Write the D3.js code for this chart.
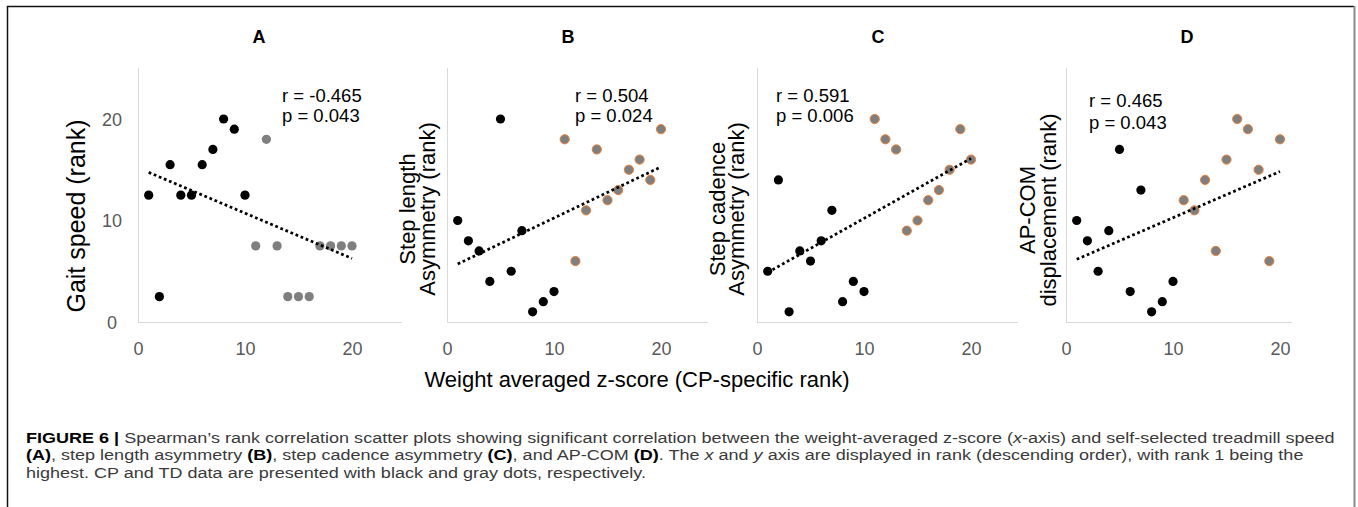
<!DOCTYPE html>
<html>
<head>
<meta charset="utf-8">
<script src="https://cdn.jsdelivr.net/npm/d3@7"></script>
<style>
  body { margin: 0; background: #fff; }
  svg { display: block; font-family: "Liberation Sans", Arial, sans-serif; }
</style>
</head>
<body>
<div id="container"></div>
<script>
const width = 1358;
const height = 507;

// weight averaged z-score rank (x of every panel)
const zRank = [1, 2, 3, 4, 5, 6, 7, 8, 9, 10, 11, 12, 13, 14, 15, 16, 17, 18, 19, 20];
const group = ['CP', 'CP', 'CP', 'CP', 'CP', 'CP', 'CP', 'CP', 'CP', 'CP',
  'TD', 'TD', 'TD', 'TD', 'TD', 'TD', 'TD', 'TD', 'TD', 'TD'];

// y ranks
const gaitSpeedRank = [12.5, 2.5, 15.5, 12.5, 12.5, 15.5, 17, 20, 19, 12.5, 7.5, 18, 7.5, 2.5, 2.5, 2.5, 7.5, 7.5, 7.5, 7.5];
const stepLengthRank = [10, 8, 7, 4, 20, 5, 9, 1, 2, 3, 18, 6, 11, 17, 12, 13, 15, 16, 14, 19];
const stepCadenceRank = [5, 14, 1, 7, 6, 8, 11, 2, 4, 3, 20, 18, 17, 9, 10, 12, 13, 15, 19, 16];
const apComRank = [10, 8, 5, 9, 17, 3, 13, 1, 2, 4, 12, 11, 14, 7, 16, 20, 19, 15, 6, 18];

const panelLetters = ['A', 'B', 'C', 'D'];
const yTitles = [
  ['Gait speed (rank)'],
  ['Step length', 'Asymmetry (rank)'],
  ['Step cadence', 'Asymmetry (rank)'],
  ['AP-COM', 'displacement (rank)']
];
const rValues = ['-0.465', '0.504', '0.591', '0.465'];
const pValues = ['0.043', '0.024', '0.006', '0.043'];
const xTicks = [0, 10, 20];
const yTicks = [0, 10, 20];
const xTitle = 'Weight averaged z-score (CP-specific rank)';

const series = [gaitSpeedRank, stepLengthRank, stepCadenceRank, apComRank];

// layout of each small chart
const layout = [
  { left: 138, axisLen: 264, titleFont: 25, titleX: [85], titleY: 216, statX: 144, statY: [102, 122], tdStroke: null, yLabels: true },
  { left: 447, axisLen: 261, titleFont: 22, titleX: [-32, -12], titleY: 209, statX: 128, statY: [102, 122], tdStroke: '#ed7d31', yLabels: false },
  { left: 757, axisLen: 261, titleFont: 22, titleX: [-32, -13], titleY: 209, statX: 19, statY: [102, 122], tdStroke: '#ed7d31', yLabels: false },
  { left: 1066, axisLen: 226, titleFont: 22, titleX: [-31, -10], titleY: 210, statX: 23, statY: [107, 129], tdStroke: '#ed7d31', yLabels: false }
];

const plotTop = 68;
const plotBottom = 322;
const pxPerRank = 10.7;

const svg = d3.select('#container')
  .append('svg')
  .attr('width', width)
  .attr('height', height);

svg.append('rect').attr('width', width).attr('height', height).attr('fill', '#fff');

// frame
svg.append('path')
  .attr('d', `M7.5,${height} V6.5 H1354`)
  .attr('fill', 'none')
  .attr('stroke', '#111')
  .attr('stroke-width', 1.5);
svg.append('line')
  .attr('x1', 1354.5).attr('x2', 1354.5)
  .attr('y1', 6).attr('y2', height)
  .attr('stroke', '#8a8a8a')
  .attr('stroke-width', 2);

const y = d3.scaleLinear().domain([0, 25]).range([plotBottom, plotBottom - 25 * 10.15]);

function fit(xs, ys) {
  const mx = d3.mean(xs), my = d3.mean(ys);
  let sxy = 0, sxx = 0;
  xs.forEach((v, i) => { sxy += (v - mx) * (ys[i] - my); sxx += (v - mx) ** 2; });
  const slope = sxy / sxx;
  return { slope, intercept: my - slope * mx };
}

series.forEach((ys, k) => {
  const L = layout[k];
  const x = d3.scaleLinear().domain([0, 20]).range([L.left, L.left + 20 * pxPerRank]);
  const g = svg.append('g');

  // axis lines
  g.append('line')
    .attr('x1', L.left + 0.5).attr('x2', L.left + 0.5)
    .attr('y1', plotTop).attr('y2', plotBottom)
    .attr('stroke', '#d9d9d9');
  g.append('line')
    .attr('x1', L.left).attr('x2', L.left + L.axisLen)
    .attr('y1', plotBottom + 0.5).attr('y2', plotBottom + 0.5)
    .attr('stroke', '#d9d9d9');

  g.append('g')
    .attr('transform', `translate(0,${plotBottom})`)
    .call(d3.axisBottom(x).tickValues(xTicks).tickSize(0).tickPadding(20))
    .call(el => el.select('.domain').remove())
    .call(el => el.selectAll('.tick text')
      .attr('fill', '#595959')
      .attr('font-size', 18)
      .attr('font-family', '"Liberation Sans", Arial, sans-serif'));

  if (L.yLabels) {
    g.append('g')
      .selectAll('text')
      .data(yTicks)
      .join('text')
      .attr('x', L.left - 26)
      .attr('y', d => y(d) + 6.5)
      .attr('text-anchor', 'middle')
      .attr('fill', '#595959')
      .attr('font-size', 18)
      .text(d => d);
  }

  // panel letter
  g.append('text')
    .attr('x', L.left + 121)
    .attr('y', 43)
    .attr('text-anchor', 'middle')
    .attr('font-weight', 'bold')
    .attr('font-size', 18)
    .text(panelLetters[k]);

  // y title
  const lines = yTitles[k];
  lines.forEach((t, i) => {
    const tx = k === 0 ? L.titleX[i] : L.left + L.titleX[i];
    g.append('text')
      .attr('transform', `translate(${tx},${L.titleY}) rotate(-90)`)
      .attr('text-anchor', 'middle')
      .attr('font-size', L.titleFont)
      .attr('fill', '#000')
      .text(t);
  });

  // points
  const pts = zRank.map((xv, i) => ({ x: xv, y: ys[i], grp: group[i] }));
  g.append('g')
    .selectAll('circle')
    .data(pts)
    .join('circle')
    .attr('cx', d => x(d.x))
    .attr('cy', d => y(d.y))
    .attr('r', 4.6)
    .attr('fill', d => d.grp === 'CP' ? '#000' : '#7f7f7f')
    .attr('stroke', d => d.grp === 'TD' && L.tdStroke ? L.tdStroke : 'none')
    .attr('stroke-width', 1);

  // linear trend line
  const f = fit(zRank, ys);
  const x0 = d3.min(zRank), x1 = d3.max(zRank);
  g.append('line')
    .attr('x1', x(x0)).attr('y1', y(f.intercept + f.slope * x0))
    .attr('x2', x(x1)).attr('y2', y(f.intercept + f.slope * x1))
    .attr('stroke', '#000')
    .attr('stroke-width', 2.75)
    .attr('stroke-dasharray', '2.75 2.75');

  // stats
  g.append('text')
    .attr('x', L.left + L.statX).attr('y', L.statY[0])
    .attr('font-size', 18.5)
    .text(`r = ${rValues[k]}`);
  g.append('text')
    .attr('x', L.left + L.statX).attr('y', L.statY[1])
    .attr('font-size', 18.5)
    .text(`p = ${pValues[k]}`);
});

svg.append('text')
  .attr('x', 637)
  .attr('y', 387)
  .attr('text-anchor', 'middle')
  .attr('font-size', 22)
  .text(xTitle);

// caption
const captionLines = [
  { y: 442.5, parts: [
    ['FIGURE 6 | ', 'b'],
    ['Spearman’s rank correlation scatter plots showing significant correlation between the weight-averaged z-score (', ''],
    ['x', 'i'], ['-axis) and self-selected treadmill speed', '']] },
  { y: 460, parts: [
    ['(A)', 'b'], [', step length asymmetry ', ''], ['(B)', 'b'], [', step cadence asymmetry ', ''],
    ['(C)', 'b'], [', and AP-COM ', ''], ['(D)', 'b'], ['. The ', ''], ['x', 'i'], [' and ', ''], ['y', 'i'],
    [' axis are displayed in rank (descending order), with rank 1 being the', '']] },
  { y: 477.5, parts: [
    ['highest. CP and TD data are presented with black and gray dots, respectively.', '']] }
];

const captionTexts = captionLines.map(line => {
  const t = svg.append('text')
    .attr('font-size', 15.5)
    .attr('fill', '#3a3a3a');
  line.parts.forEach(p => {
    t.append('tspan')
      .attr('font-weight', p[1] === 'b' ? 'bold' : null)
      .attr('font-style', p[1] === 'i' ? 'italic' : null)
      .attr('fill', p[1] === 'b' ? '#000' : null)
      .text(p[0]);
  });
  return { t, y: line.y };
});

// the caption face is a condensed one: squeeze glyphs so the first line spans the frame
const firstLen = captionTexts[0].t.node().getComputedTextLength();
const squeeze = 1310 / firstLen;
captionTexts.forEach(c => c.t.attr('transform', `translate(26,${c.y}) scale(${squeeze},1)`));
</script>
</body>
</html>
